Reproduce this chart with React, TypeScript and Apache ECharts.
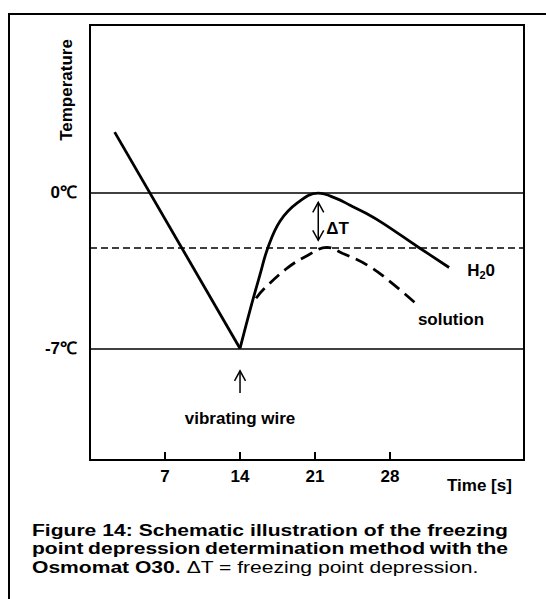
import React, { useEffect, useRef } from 'react';
import * as echarts from 'echarts';

const FONT = '"Liberation Sans", Arial, Helvetica, sans-serif';

// Cooling ramp until the wire starts vibrating (time in s, temperature in °C)
const coolingTime = [2.3, 14];
const coolingTemp = [2.7, -7];

// Pure water: rises to the freezing plateau, then cools again
const waterTime = [14, 14.93, 15.87, 16.61, 17.73, 19.32, 21.28, 22.96, 24.27, 25.76, 27.35, 30.61, 33.51];
const waterTemp = [-7, -5.29, -3.68, -2.47, -1.3, -0.49, -0.04, -0.27, -0.58, -0.94, -1.39, -2.45, -3.37];

// Solution: lower plateau (freezing point depression)
const solutionTime = [15.5, 16.2, 18.4, 20.3, 22.1, 23.6, 25.9, 28, 30.6];
const solutionTemp = [-4.75, -4.35, -3.4, -2.83, -2.47, -2.74, -3.27, -4.0, -5.07];

// Axis ticks
const xTickValues = [7, 14, 21, 28];
const yTickValues = [0, -7];
const yTickLabels = ['0℃', '-7℃'];

// Solid horizontal reference levels
const levelLines = [0, -7];

// Arrows: ΔT between the plateaus, and the "vibrating wire" trigger
const arrowTime = [21.3, 14];
const arrowFrom = [-0.45, -9.0];
const arrowTo = [-2.15, -8.0];
const arrowBothEnds = [1, 0];

// Text notes placed in data space
const noteTime = [22.05, 35.2, 30.6, 14];
const noteTemp = [-1.62, -3.5, -5.7, -10.14];
const noteText = ['ΔT', '{b|H}{s|2}{b|0}', 'solution', 'vibrating wire'];
const noteAlign = ['left', 'left', 'left', 'center'];

// Caption
const captionLine1 = ['Figure', '14:', 'Schematic', 'illustration', 'of', 'the', 'freezing'];
const captionLine2 = ['point', 'depression', 'determination', 'method', 'with', 'the'];
const captionBold3 = 'Osmomat O30.';
const captionPlain3 = 'ΔT = freezing point depression.';

const pairs = (xs: number[], ys: number[]) => xs.map((x, i) => [x, ys[i]]);

function measure(text: string, font: string): number {
  const ctx = document.createElement('canvas').getContext('2d');
  if (!ctx) return text.length * 9;
  ctx.font = font;
  return ctx.measureText(text).width;
}

export default function App() {
  const ref = useRef<HTMLDivElement>(null);

  useEffect(() => {
    if (!ref.current) return;
    const chart = echarts.init(ref.current, null, { renderer: 'svg' });

    const boldText = { fontFamily: FONT, fontWeight: 'bold' as const, fontSize: 17, fill: '#000' };
    const solutionPeak = Math.max(...solutionTemp);

    // caption, stretched horizontally, lines 1-2 justified
    const capSize = 17;
    const capScale = 1.24;
    const capLeft = 32;
    const capRight = 508;
    const localWidth = (capRight - capLeft) / capScale;
    const boldFont = `bold ${capSize}px ${FONT}`;
    const plainFont = `${capSize}px ${FONT}`;
    const justify = (words: string[], y: number) => {
      const widths = words.map((w) => measure(w, boldFont));
      const total = widths.reduce((a, b) => a + b, 0);
      const gap = (localWidth - total) / (words.length - 1);
      let x = 0;
      return words.map((w, i) => {
        const el = {
          type: 'text',
          x,
          y,
          style: { text: w, fontFamily: FONT, fontWeight: 'bold', fontSize: capSize, fill: '#000', verticalAlign: 'middle' },
        };
        x += widths[i] + gap;
        return el;
      });
    };
    const boldW = measure(captionBold3, boldFont);
    const spaceW = measure(' ', plainFont);

    chart.setOption({
      animation: false,
      grid: {
        left: 90,
        top: 25,
        width: 434,
        height: 435,
        show: true,
        borderColor: '#000',
        borderWidth: 2,
        backgroundColor: 'transparent',
      },
      xAxis: {
        type: 'value',
        min: 0,
        max: 40.5,
        interval: 7,
        axisLine: { show: true, onZero: false, lineStyle: { color: '#000', width: 2 } },
        axisTick: { show: true, inside: true, length: 8, customValues: xTickValues, lineStyle: { color: '#000', width: 2 } },
        axisLabel: {
          customValues: xTickValues,
          color: '#000',
          fontFamily: FONT,
          fontWeight: 'bold',
          fontSize: 17,
          margin: 8,
        },
        splitLine: { show: false },
      },
      yAxis: {
        type: 'value',
        min: -12,
        max: 7.5,
        axisLine: { show: true, onZero: false, lineStyle: { color: '#000', width: 2 } },
        axisTick: { show: false },
        axisLabel: {
          customValues: yTickValues,
          formatter: (v: number) => {
            const i = yTickValues.indexOf(v);
            return i >= 0 ? yTickLabels[i] : '';
          },
          color: '#000',
          fontFamily: FONT,
          fontWeight: 'bold',
          fontSize: 17,
          margin: 13,
        },
        splitLine: { show: false },
      },
      series: [
        {
          name: 'cooling',
          type: 'line',
          data: pairs(coolingTime, coolingTemp),
          symbol: 'none',
          lineStyle: { color: '#000', width: 2.8 },
        },
        {
          name: 'H2O',
          type: 'line',
          data: pairs(waterTime, waterTemp),
          smooth: 0.4,
          symbol: 'none',
          lineStyle: { color: '#000', width: 2.8 },
          markLine: {
            silent: true,
            symbol: 'none',
            label: { show: false },
            data: [
              ...levelLines.map((v) => ({ yAxis: v, lineStyle: { color: '#000', type: 'solid', width: 1.6 } })),
              { yAxis: solutionPeak, lineStyle: { color: '#000', type: [7, 4], width: 1.6 } },
            ],
          },
        },
        {
          name: 'solution',
          type: 'line',
          data: pairs(solutionTime, solutionTemp),
          smooth: 0.4,
          symbol: 'none',
          lineStyle: { color: '#000', width: 2.8, type: [13, 7] },
        },
        {
          name: 'arrows',
          type: 'custom',
          silent: true,
          encode: { x: 0, y: [1, 2] },
          data: arrowTime.map((t, i) => [t, arrowFrom[i], arrowTo[i], arrowBothEnds[i]]),
          renderItem: (_params: any, api: any) => {
            const p1 = api.coord([api.value(0), api.value(1)]);
            const p2 = api.coord([api.value(0), api.value(2)]);
            const both = api.value(3) === 1;
            const head = (tip: number[], other: number[]) => {
              const dir = Math.sign(other[1] - tip[1]);
              return {
                type: 'polyline',
                shape: { points: [[tip[0] - 5.5, tip[1] + dir * 10], [tip[0], tip[1]], [tip[0] + 5.5, tip[1] + dir * 10]] },
                style: { stroke: '#000', fill: 'none', lineWidth: 1.5 },
              };
            };
            const children: any[] = [
              { type: 'line', shape: { x1: p1[0], y1: p1[1], x2: p2[0], y2: p2[1] }, style: { stroke: '#000', lineWidth: 1.5 } },
              head(p2, p1),
            ];
            if (both) children.push(head(p1, p2));
            return { type: 'group', children };
          },
        },
        {
          name: 'notes',
          type: 'custom',
          silent: true,
          data: noteTime.map((t, i) => [t, noteTemp[i]]),
          renderItem: (params: any, api: any) => {
            const i = params.dataIndex;
            const p = api.coord([api.value(0), api.value(1)]);
            return {
              type: 'text',
              x: p[0],
              y: p[1],
              style: {
                text: noteText[i],
                ...boldText,
                align: noteAlign[i],
                verticalAlign: 'middle',
                rich: {
                  b: { fontFamily: FONT, fontWeight: 'bold', fontSize: 17, fill: '#000', lineHeight: 20 },
                  s: { fontFamily: FONT, fontWeight: 'bold', fontSize: 11, fill: '#000', lineHeight: 20, padding: [9, 0, 0, 0] },
                },
              },
            };
          },
        },
      ],
      graphic: [
        {
          type: 'rect',
          shape: { x: 9, y: 14, width: 600, height: 600 },
          style: { stroke: '#000', lineWidth: 2, fill: 'none' },
          silent: true,
        },
        {
          type: 'text',
          x: 66,
          y: 90,
          rotation: Math.PI / 2,
          style: { text: 'Temperature', ...boldText, align: 'center', verticalAlign: 'middle' },
        },
        {
          type: 'text',
          x: 447,
          y: 485,
          style: { text: 'Time [s]', ...boldText, align: 'left', verticalAlign: 'middle' },
        },
        {
          type: 'group',
          x: capLeft,
          y: 0,
          scaleX: capScale,
          children: [
            ...justify(captionLine1, 530),
            ...justify(captionLine2, 548.5),
            {
              type: 'text',
              x: 0,
              y: 567,
              style: { text: captionBold3, fontFamily: FONT, fontWeight: 'bold', fontSize: capSize, fill: '#000', verticalAlign: 'middle' },
            },
            {
              type: 'text',
              x: boldW + spaceW,
              y: 567,
              style: { text: captionPlain3, fontFamily: FONT, fontWeight: 'normal', fontSize: capSize, fill: '#000', verticalAlign: 'middle' },
            },
          ],
        },
      ],
    });

    return () => chart.dispose();
  }, []);

  return (
    <div
      ref={ref}
      style={{ position: 'absolute', left: 0, top: 0, width: 546, height: 599, background: '#fff' }}
    />
  );
}
